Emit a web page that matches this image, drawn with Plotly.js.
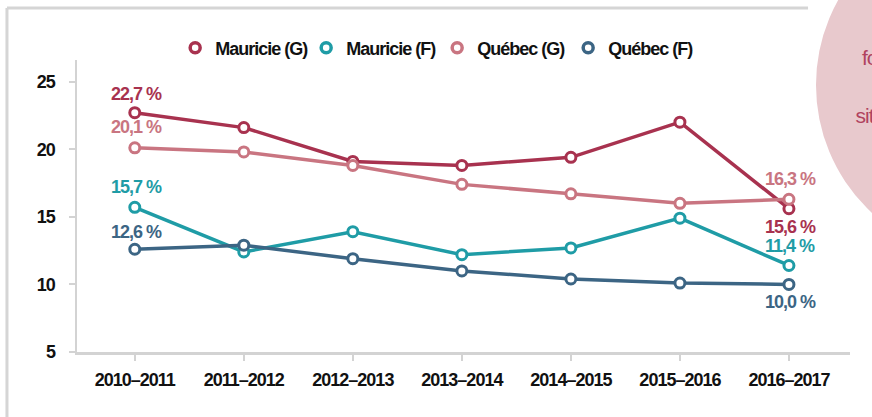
<!DOCTYPE html>
<html>
<head>
<meta charset="utf-8">
<script src="https://cdn.plot.ly/plotly-3.0.1.min.js"></script>
<style>
html,body{margin:0;padding:0;background:#fff;}
#chart{width:872px;height:417px;}
#chart text{font-stretch:condensed !important; letter-spacing:-1px;}
</style>
</head>
<body>
<div id="chart"></div>
<script>
const categories = ["2010–2011","2011–2012","2012–2013","2013–2014","2014–2015","2015–2016","2016–2017"];
const seriesNames = ["Mauricie (G)","Mauricie (F)","Québec (G)","Québec (F)"];
const mauricieG = [22.7, 21.6, 19.1, 18.8, 19.4, 22.0, 15.6];
const mauricieF = [15.7, 12.4, 13.9, 12.2, 12.7, 14.9, 11.4];
const quebecG   = [20.1, 19.8, 18.8, 17.4, 16.7, 16.0, 16.3];
const quebecF   = [12.6, 12.9, 11.9, 11.0, 10.4, 10.1, 10.0];
const yTicks = [5, 10, 15, 20, 25];
const sideTexts = ["fo", "sit"];

const colors = ["#a8324f", "#1f9ca6", "#c97581", "#3c6584"];
const allSeries = [mauricieG, mauricieF, quebecG, quebecF];
const FONT = "'Liberation Sans Narrow', 'Liberation Sans', 'DejaVu Sans Condensed', sans-serif";
const FS = 18;

const traces = allSeries.map((vals, i) => ({
  type: "scatter",
  mode: "lines+markers",
  name: seriesNames[i],
  x: categories,
  y: vals,
  showlegend: false,
  line: {color: colors[i], width: 3.5},
  marker: {symbol: "circle", size: 10, color: "#ffffff", line: {color: colors[i], width: 3}},
  hoverinfo: "skip"
}));
// legend entries (marker only)
seriesNames.forEach((nm, i) => {
  traces.push({
    type: "scatter", mode: "markers", name: nm,
    x: [null], y: [null], showlegend: true,
    marker: {symbol: "circle", size: 10, color: "#ffffff", line: {color: colors[i], width: 3.5}},
    hoverinfo: "skip"
  });
});

function fmt(v){ return v.toFixed(1).replace(".", ",") + " %"; }

const firstShift = [19, 20, 21, 17];
const lastShift = [-18, 19, 20, -18];

const annotations = [];
allSeries.forEach((vals, i) => {
  annotations.push({
    x: categories[0], y: vals[0], xref: "x", yref: "y",
    text: fmt(vals[0]), showarrow: false, yshift: firstShift[i], xshift: 1,
    font: {family: FONT, size: FS, color: colors[i], weight: "bold"}
  });
  const n = vals.length - 1;
  annotations.push({
    x: categories[n], y: vals[n], xref: "x", yref: "y",
    text: fmt(vals[n]), showarrow: false, yshift: lastShift[i], xshift: 1,
    font: {family: FONT, size: FS, color: colors[i], weight: "bold"}
  });
});
annotations.push({
  x: 1.012, y: 1.01, xref: "paper", yref: "paper", xanchor: "left", yanchor: "middle",
  text: sideTexts[0], showarrow: false, font: {family: FONT, size: 21, color: "#b0435f"}
});
annotations.push({
  x: 1.002, y: 0.81, xref: "paper", yref: "paper", xanchor: "left", yanchor: "middle",
  text: sideTexts[1], showarrow: false, font: {family: FONT, size: 21, color: "#b0435f"}
});

const layout = {
  width: 872, height: 417,
  margin: {l: 77, r: 22, t: 60, b: 65},
  paper_bgcolor: "#ffffff",
  plot_bgcolor: "#ffffff",
  showlegend: true,
  legend: {
    orientation: "h", x: 0.127, xanchor: "left", y: 1.041, yanchor: "middle",
    font: {family: FONT, size: FS, color: "#111111", weight: "bold"},
    bgcolor: "rgba(0,0,0,0)", entrywidth: 86, entrywidthmode: "pixels"
  },
  xaxis: {
    type: "category",
    range: [-0.53, 6.56],
    showline: true, linecolor: "#d3d3d3", linewidth: 2.5,
    ticks: "outside", ticklen: 6, tickcolor: "#d3d3d3", tickwidth: 2,
    showgrid: false, zeroline: false,
    tickfont: {family: FONT, size: FS, color: "#111111", weight: "bold"},
    ticklabelstandoff: 4
  },
  yaxis: {
    range: [5, 26.6],
    tickvals: yTicks,
    showline: true, linecolor: "#d3d3d3", linewidth: 2.5,
    ticks: "outside", ticklen: 6, tickcolor: "#d3d3d3", tickwidth: 2,
    showgrid: false, zeroline: false,
    tickfont: {family: FONT, size: FS, color: "#111111", weight: "bold"},
    ticklabelstandoff: 10
  },
  shapes: [
    {type: "line", xref: "paper", yref: "paper", x0: -0.0906, x1: 0.9457, y0: 1.178, y1: 1.178,
     line: {color: "#d5d5d5", width: 3}},
    {type: "line", xref: "paper", yref: "paper", x0: -0.0906, x1: -0.0906, y0: 1.178, y1: -0.25,
     line: {color: "#d5d5d5", width: 3}},
    {type: "circle", xref: "paper", yref: "paper", x0: 0.956, x1: 1.406, y0: 0.3185, y1: 1.51,
     fillcolor: "#e8c9cd", line: {width: 0}, layer: "below"}
  ],
  annotations: annotations
};

Plotly.newPlot("chart", traces, layout, {displayModeBar: false, staticPlot: true});
</script>
</body>
</html>
